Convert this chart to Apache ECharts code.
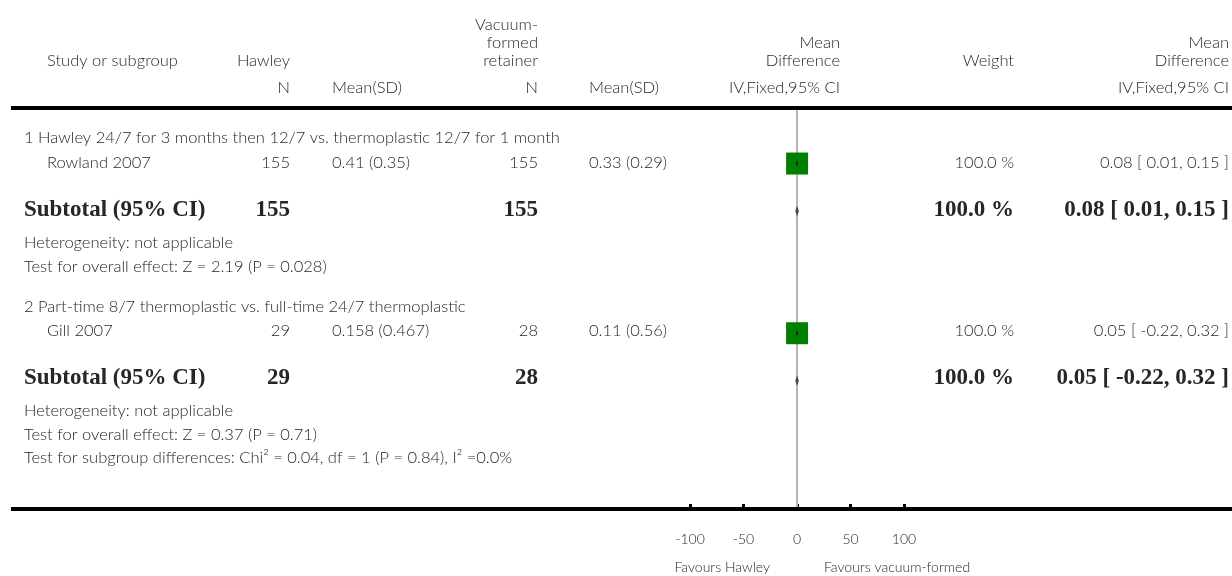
<!DOCTYPE html>
<html>
<head>
<meta charset="utf-8">
<script src="https://cdn.jsdelivr.net/npm/echarts@6/dist/echarts.min.js"></script>
<style>
html,body{margin:0;padding:0;background:#fff;}
#chart{width:1232px;height:576px;}
</style>
</head>
<body>
<div id="chart"></div>
<script>
// ---------- DATA ----------
var groupHeadings = [
  '1 Hawley 24/7 for 3 months then 12/7 vs. thermoplastic 12/7 for 1 month',
  '2 Part-time 8/7 thermoplastic vs. full-time 24/7 thermoplastic'
];
var studies = ['Rowland 2007', 'Gill 2007'];
var hawleyN = [155, 29];
var hawleyMeanSD = ['0.41 (0.35)', '0.158 (0.467)'];
var vacuumN = [155, 28];
var vacuumMeanSD = ['0.33 (0.29)', '0.11 (0.56)'];
var studyMD = [0.08, 0.05];
var studyLo = [0.01, -0.22];
var studyHi = [0.15, 0.32];
var studyWeight = [100.0, 100.0];

var subtotalHawleyN = [155, 29];
var subtotalVacuumN = [155, 28];
var subtotalMD = [0.08, 0.05];
var subtotalLo = [0.01, -0.22];
var subtotalHi = [0.15, 0.32];
var subtotalWeight = [100.0, 100.0];

var heterogeneity = ['Heterogeneity: not applicable', 'Heterogeneity: not applicable'];
var overallEffect = ['Test for overall effect: Z = 2.19 (P = 0.028)', 'Test for overall effect: Z = 0.37 (P = 0.71)'];
var subgroupTest = 'Test for subgroup differences: Chi\u00B2 = 0.04, df = 1 (P = 0.84), I\u00B2 =0.0%';

var xTicks = [-100, -50, 0, 50, 100];
var favoursLeft = 'Favours Hawley';
var favoursRight = 'Favours vacuum-formed';

// ---------- LAYOUT (pixel rows) ----------
var rowHeading = [138, 307];
var rowStudy = [163, 331];
var rowSubtotal = [210, 378];
var rowHet = [243, 411];
var rowTest = [267, 435];
var rowSubgroup = 458;
var headerLineY = 108;
var axisY = 509;

var FONT = 'Lato, "Open Sans", sans-serif';
var NF = '300 16.5px ' + FONT;
var SF = '300 14px ' + FONT;
var BF = 'bold 23px "Liberation Serif", "DejaVu Serif", serif';
var TXT = '#262626';

function fmtCI(m, l, h) {
  return m.toFixed(2) + ' [ ' + l.toFixed(2) + ', ' + h.toFixed(2) + ' ]';
}
function t(text, x, y, align, font) {
  return {
    type: 'text', silent: true,
    style: {
      text: String(text), x: x, y: y,
      textAlign: align || 'left', align: align || 'left',
      textVerticalAlign: 'middle', verticalAlign: 'middle',
      font: font || NF, fill: TXT
    }
  };
}

var g = [];
// header
g.push(t('Vacuum-', 538, 25, 'right'));
g.push(t('formed', 538, 43, 'right'));
g.push(t('retainer', 538, 61, 'right'));
g.push(t('Study or subgroup', 47, 61, 'left'));
g.push(t('Hawley', 290, 61, 'right'));
g.push(t('Mean', 840, 43, 'right'));
g.push(t('Difference', 840, 61, 'right'));
g.push(t('Weight', 1014, 61, 'right'));
g.push(t('Mean', 1229, 43, 'right'));
g.push(t('Difference', 1229, 61, 'right'));
g.push(t('N', 290, 88, 'right'));
g.push(t('Mean(SD)', 332, 88, 'left'));
g.push(t('N', 538, 88, 'right'));
g.push(t('Mean(SD)', 589, 88, 'left'));
g.push(t('IV,Fixed,95% CI', 840, 88, 'right'));
g.push(t('IV,Fixed,95% CI', 1229, 88, 'right'));

// header and bottom rules
g.push({ type: 'line', silent: true, z: 10, shape: { x1: 11, y1: headerLineY, x2: 1232, y2: headerLineY }, style: { stroke: '#000', lineWidth: 4 } });
g.push({ type: 'line', silent: true, z: 10, shape: { x1: 11, y1: axisY, x2: 1232, y2: axisY }, style: { stroke: '#000', lineWidth: 4 } });

for (var i = 0; i < studies.length; i++) {
  g.push(t(groupHeadings[i], 24, rowHeading[i], 'left'));
  g.push(t(studies[i], 47, rowStudy[i], 'left'));
  g.push(t(hawleyN[i], 290, rowStudy[i], 'right'));
  g.push(t(hawleyMeanSD[i], 332, rowStudy[i], 'left'));
  g.push(t(vacuumN[i], 538, rowStudy[i], 'right'));
  g.push(t(vacuumMeanSD[i], 589, rowStudy[i], 'left'));
  g.push(t(studyWeight[i].toFixed(1) + ' %', 1014, rowStudy[i], 'right'));
  g.push(t(fmtCI(studyMD[i], studyLo[i], studyHi[i]), 1229, rowStudy[i], 'right'));

  g.push(t('Subtotal (95% CI)', 24, rowSubtotal[i], 'left', BF));
  g.push(t(subtotalHawleyN[i], 290, rowSubtotal[i], 'right', BF));
  g.push(t(subtotalVacuumN[i], 538, rowSubtotal[i], 'right', BF));
  g.push(t(subtotalWeight[i].toFixed(1) + ' %', 1014, rowSubtotal[i], 'right', BF));
  g.push(t(fmtCI(subtotalMD[i], subtotalLo[i], subtotalHi[i]), 1229, rowSubtotal[i], 'right', BF));

  g.push(t(heterogeneity[i], 24, rowHet[i], 'left'));
  g.push(t(overallEffect[i], 24, rowTest[i], 'left'));
}
g.push(t(subgroupTest, 24, rowSubgroup, 'left'));
g.push(t(favoursLeft, 770, 567, 'right', SF));
g.push(t(favoursRight, 824, 567, 'left', SF));

var studyPts = studies.map(function (s, i) { return [studyMD[i], rowStudy[i]]; });
var studyCI = studies.map(function (s, i) { return [studyLo[i], studyHi[i], rowStudy[i]]; });
var subCI = subtotalMD.map(function (m, i) { return [subtotalLo[i], subtotalHi[i], rowSubtotal[i], m]; });

var chart = echarts.init(document.getElementById('chart'), null, { renderer: 'canvas' });
chart.setOption({
  animation: false,
  backgroundColor: '#fff',
  grid: { left: 690, right: 1232 - 904, top: headerLineY + 2, bottom: 576 - axisY - 2 },
  xAxis: {
    type: 'value', min: -100, max: 100, interval: 50,
    splitLine: { show: false },
    axisLine: { show: false },
    axisTick: { show: true, inside: true, length: 7, lineStyle: { color: '#000', width: 3 } },
    axisLabel: { margin: 21, fontSize: 14, fontWeight: 300, fontFamily: FONT, color: TXT,
      formatter: function (v) { return String(v); } }
  },
  yAxis: {
    type: 'value', inverse: true, min: headerLineY + 2, max: axisY - 2, show: false
  },
  series: [
    {
      // zero reference line (drawn beneath the marks)
      type: 'line', data: [], z: 1,
      markLine: {
        z: 1, silent: true, symbol: 'none', label: { show: false },
        lineStyle: { color: '#b5b5b5', width: 2, type: 'solid' },
        data: [{ xAxis: 0 }]
      }
    },
    {
      type: 'scatter', symbol: 'rect', symbolSize: 22, z: 8,
      itemStyle: { color: '#008000', opacity: 1 },
      data: studyPts
    },
    {
      type: 'custom', z: 9,
      renderItem: function (params, api) {
        var p1 = api.coord([api.value(0), api.value(2)]);
        var p2 = api.coord([api.value(1), api.value(2)]);
        var w = Math.max(2, p2[0] - p1[0]);
        return { type: 'rect', shape: { x: (p1[0] + p2[0]) / 2 - w / 2, y: p1[1] - 2, width: w, height: 4 },
          style: { fill: '#0d2a0d' } };
      },
      data: studyCI
    },
    {
      type: 'custom', z: 9,
      renderItem: function (params, api) {
        var pl = api.coord([api.value(0), api.value(2)]);
        var ph = api.coord([api.value(1), api.value(2)]);
        var pm = api.coord([api.value(3), api.value(2)]);
        var half = Math.max(1, (ph[0] - pl[0]) / 2);
        var cx = pm[0];
        return { type: 'polygon', shape: { points: [[cx - half, pm[1]], [cx, pm[1] - 3], [cx + half, pm[1]], [cx, pm[1] + 3]] },
          style: { fill: '#4a4a4a', stroke: '#4a4a4a', lineWidth: 1.5 } };
      },
      data: subCI
    }
  ],
  graphic: g
});
</script>
</body>
</html>
